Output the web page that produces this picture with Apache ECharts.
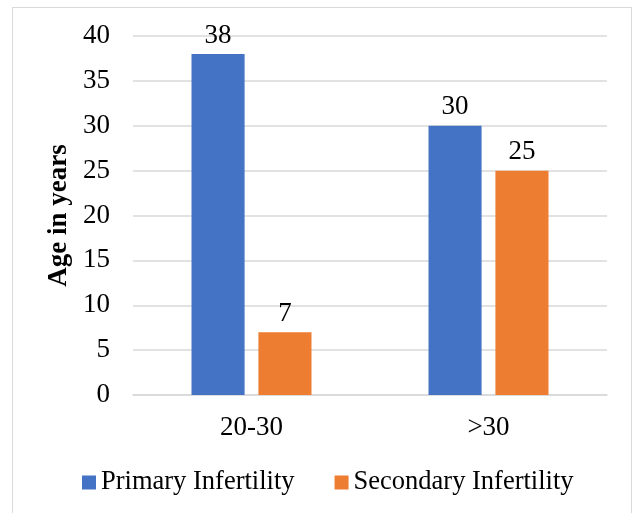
<!DOCTYPE html>
<html>
<head>
<meta charset="utf-8">
<script src="https://cdn.jsdelivr.net/npm/echarts@6/dist/echarts.min.js"></script>
<style>
html,body{margin:0;padding:0;background:#fff;}
#frame{position:absolute;left:12px;top:7px;width:620px;height:520px;border:1.5px solid #d9d9d9;box-sizing:border-box;}
#chart{position:absolute;left:0;top:0;width:636px;height:513px;}
</style>
</head>
<body>
<div id="frame"></div>
<div id="chart"></div>
<script>
const categories = ['20-30', '>30'];
const primaryInfertility = [38, 30];
const secondaryInfertility = [7, 25];
const yTicks = { min: 0, max: 40, interval: 5 };

const font = '"Liberation Serif", "Times New Roman", serif';
const fs = 27;
const chart = echarts.init(document.getElementById('chart'), null, { renderer: 'canvas' });
chart.setOption({
  animation: false,
  backgroundColor: 'transparent',
  textStyle: { fontFamily: font },
  grid: { left: 133, right: 29, top: 36, bottom: 118, containLabel: false },
  legend: {
    left: 82, top: 469, padding: 0,
    itemWidth: 14, itemHeight: 14, itemGap: 40,
    icon: 'rect',
    textStyle: { fontFamily: font, fontSize: 26.5, color: '#000' },
    data: ['Primary Infertility', 'Secondary Infertility']
  },
  xAxis: {
    type: 'category',
    data: categories,
    axisLine: { show: true, lineStyle: { color: '#d9d9d9', width: 1.5 } },
    axisTick: { show: false },
    axisLabel: { fontFamily: font, fontSize: fs, color: '#000', margin: 19 }
  },
  yAxis: {
    type: 'value',
    min: yTicks.min, max: yTicks.max, interval: yTicks.interval,
    name: 'Age in years',
    nameLocation: 'middle',
    nameGap: 57,
    nameRotate: 90,
    nameTextStyle: { fontFamily: font, fontSize: fs, fontWeight: 'bold', color: '#000' },
    axisLine: { show: false },
    axisTick: { show: false },
    splitLine: { lineStyle: { color: '#d9d9d9', width: 1.5 } },
    axisLabel: { fontFamily: font, fontSize: fs, color: '#000', margin: 23 }
  },
  series: [
    {
      name: 'Primary Infertility', type: 'bar', data: primaryInfertility,
      barWidth: '22.4%', barGap: '26%',
      itemStyle: { color: '#4472C4' },
      label: { show: true, position: 'top', distance: 5, fontFamily: font, fontSize: fs, color: '#000' }
    },
    {
      name: 'Secondary Infertility', type: 'bar', data: secondaryInfertility,
      barWidth: '22.4%',
      itemStyle: { color: '#ED7D31' },
      label: { show: true, position: 'top', distance: 5, fontFamily: font, fontSize: fs, color: '#000' }
    }
  ]
});
</script>
</body>
</html>
